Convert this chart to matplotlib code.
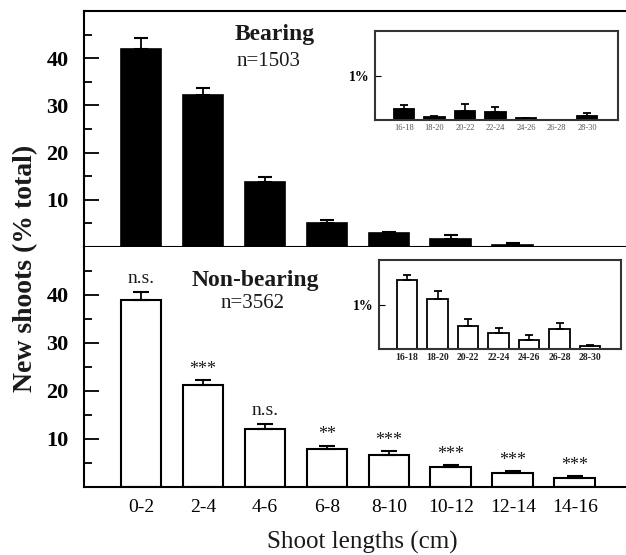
import numpy as np
import matplotlib
matplotlib.use("Agg")
import matplotlib.pyplot as plt

# main panels
main_labels = ['0-2', '2-4', '4-6', '6-8', '8-10', '10-12', '12-14', '14-16']
bearing = [42.0, 32.1, 13.7, 5.1, 2.9, 1.8, 0.5]
bearing_err = [2.2, 1.6, 1.2, 0.6, 0.3, 0.7, 0.4]
nonbearing = [39.0, 21.2, 12.1, 7.9, 6.6, 4.2, 3.0, 1.9]
nonbearing_err = [1.7, 1.0, 1.0, 0.7, 0.9, 0.3, 0.3, 0.3]
signif = ['n.s.', '***', 'n.s.', '**', '***', '***', '***', '***']

# insets (long shoots)
inset_labels = ['16-18', '18-20', '20-22', '22-24', '24-26', '26-28', '28-30']
bearing_long = [0.24, 0.075, 0.21, 0.18, 0.04, 0.0, 0.10]
bearing_long_err = [0.10, 0.025, 0.15, 0.12, 0.01, 0.0, 0.07]
nonbearing_long = [1.57, 1.14, 0.53, 0.36, 0.20, 0.46, 0.07]
nonbearing_long_err = [0.10, 0.18, 0.15, 0.11, 0.12, 0.14, 0.03]

SERIF = ['Liberation Serif', 'DejaVu Serif']
plt.rcParams['font.family'] = SERIF
plt.rcParams['text.color'] = '#1a1a1a'

W, H = 626, 555
fig = plt.figure(figsize=(W / 100, H / 100), dpi=100)


def fx(px):
    return px / W


def fy(py):
    return 1 - py / H


def box(x0, y0, x1, y1):
    return [fx(x0), fy(y1), fx(x1) - fx(x0), fy(y0) - fy(y1)]


ax_top = fig.add_axes(box(84, 11, 640, 247))
ax_bot = fig.add_axes(box(84, 247, 640, 487))

XL = (-0.92, 8.05)
BW = 0.66


def style_main(ax):
    ax.set_xlim(*XL)
    ax.set_ylim(0, 50)
    ax.spines['right'].set_visible(False)
    for s in ax.spines.values():
        s.set_linewidth(1.5)
    ax.set_yticks([10, 20, 30, 40])
    ax.set_yticks([5, 15, 25, 35, 45], minor=True)
    ax.tick_params(axis='y', which='major', direction='in', length=11, width=1.3, pad=11,
                   labelsize=16)
    ax.tick_params(axis='y', which='minor', direction='in', length=6, width=1.3)
    for lab in ax.get_yticklabels():
        lab.set_fontweight('bold')


x_top = np.arange(len(bearing))
ax_top.bar(x_top, bearing, width=BW, color='black', edgecolor='black', linewidth=1.2)
ax_top.errorbar(x_top, bearing, yerr=[np.zeros(len(bearing)), bearing_err], fmt='none',
                ecolor='black', elinewidth=1.3, capsize=5, capthick=1.5)
style_main(ax_top)
ax_top.set_xticks([])
ax_top.text(2.15, 45.0, 'Bearing', ha='center', va='center', fontsize=17, fontweight='bold')
ax_top.text(2.05, 39.2, 'n=1503', ha='center', va='center', fontsize=15)

x_bot = np.arange(len(nonbearing))
ax_bot.bar(x_bot, nonbearing, width=BW, color='white', edgecolor='black', linewidth=1.5)
ax_bot.errorbar(x_bot, nonbearing, yerr=[np.zeros(len(nonbearing)), nonbearing_err], fmt='none',
                ecolor='black', elinewidth=1.3, capsize=6, capthick=1.5)
style_main(ax_bot)
ax_bot.spines['top'].set_visible(False)
ax_bot.set_xticks(x_bot)
ax_bot.set_xticklabels(main_labels, fontsize=14)
ax_bot.tick_params(axis='x', length=0, pad=9)
for xi, v, e, s in zip(x_bot, nonbearing, nonbearing_err, signif):
    if s == 'n.s.':
        ax_bot.text(xi, v + e + 1.8, s, ha='center', va='baseline', fontsize=14)
    else:
        ax_bot.text(xi, v + e + 1.3, s, ha='center', va='baseline', fontsize=13)
ax_bot.text(1.85, 43.1, 'Non-bearing', ha='center', va='center', fontsize=17, fontweight='bold')
ax_bot.text(1.8, 38.3, 'n=3562', ha='center', va='center', fontsize=15)

fig.text(fx(26), fy(268), 'New shoots (% total)', rotation=90, ha='center', va='center',
         fontsize=20, fontweight='bold')
fig.text(fx(362), fy(542), 'Shoot lengths (cm)', ha='center', va='center', fontsize=18)


def make_inset(rect, vals, errs, filled, lab_size, lab_weight, lab_color, left_px, width_px):
    ax = fig.add_axes(rect)
    xs = np.arange(len(vals))
    ax.bar(xs, vals, width=BW, color='black' if filled else 'white', edgecolor='black',
           linewidth=1.3)
    ax.errorbar(xs, vals, yerr=[np.zeros(len(vals)), errs], fmt='none', ecolor='black',
                elinewidth=1.2, capsize=3, capthick=1.3)
    x0 = -left_px / 30.5
    ax.set_xlim(x0, x0 + width_px / 30.5)
    ax.set_ylim(0, 2.02)
    for s in ax.spines.values():
        s.set_linewidth(1.5)
        s.set_color('#333333')
    ax.set_yticks([1])
    ax.set_yticklabels(['1%'], fontsize=10, fontweight='bold')
    ax.tick_params(axis='y', direction='in', length=4, pad=4)
    ax.set_xticks(xs)
    ax.set_xticklabels(inset_labels, fontsize=lab_size, fontweight=lab_weight, color=lab_color)
    ax.tick_params(axis='x', length=0, pad=3)
    return ax


make_inset(box(375, 31, 618, 120), bearing_long, bearing_long_err, True, 6, 'normal',
           '#555555', 404 - 375, 618 - 375)
make_inset(box(379, 260, 621, 349), nonbearing_long, nonbearing_long_err, False, 7, 'bold',
           '#222222', 407 - 379, 621 - 379)

fig.savefig('out.png', dpi=100)
